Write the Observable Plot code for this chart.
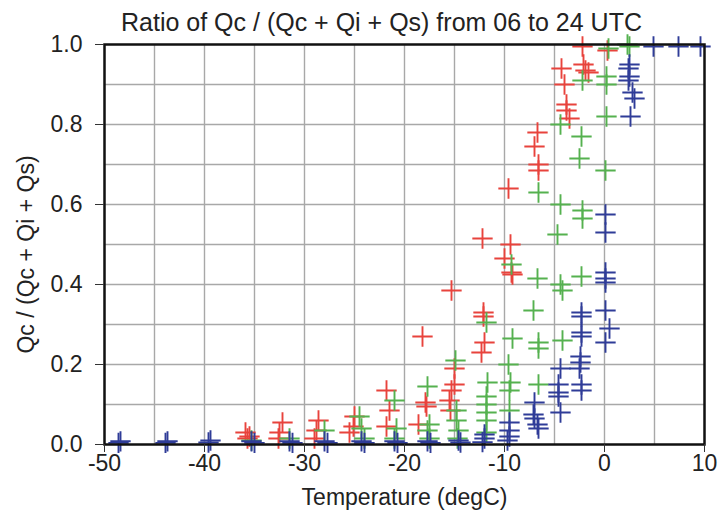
<!DOCTYPE html>
<html>
<head>
<meta charset="utf-8">
<script src="https://cdn.jsdelivr.net/npm/d3@7"></script>
<script src="https://cdn.jsdelivr.net/npm/@observablehq/plot@0.6"></script>
<style>
  html, body { margin: 0; padding: 0; background: white; }
</style>
</head>
<body>
<div id="chart"></div>
<script>
const title = "Ratio of Qc / (Qc + Qi + Qs) from 06 to 24 UTC";
const xLabel = "Temperature (degC)";
const yLabel = "Qc / (Qc + Qi + Qs)";
const xTicks = [-50, -40, -30, -20, -10, 0, 10];
const yTicks = [0, 0.2, 0.4, 0.6, 0.8, 1.0];
const xGrid = [-45, -40, -35, -30, -25, -20, -15, -10, -5, 0, 5];
const yGrid = [0.1, 0.2, 0.3, 0.4, 0.5, 0.6, 0.7, 0.8, 0.9];

const redT = [-35.9,-35.7,-35.5, -32.2,-32.5,-32.6, -28.6,-28.8,-29.0, -25.0,-25.1,-25.5,
  -21.8,-21.5,-21.8, -18.2,-17.9,-17.8,-18.6, -15.3,-15.0,-15.0,-15.3,-15.5,-15.4,
  -12.2,-12.1,-12.1,-12.0,-12.3, -9.6,-9.4,-10.0,-9.3,-9.2, -6.7,-7.0,-6.6,-6.6,
  -4.3,-4.0,-3.8,-3.8,-3.5, -2.1,-1.9,-1.6,-2.2, 0.3];
const redQ = [0.03,0.015,0.02, 0.055,0.03,0.015, 0.06,0.035,0.015, 0.07,0.045,0.03,
  0.135,0.085,0.045, 0.27,0.105,0.095,0.05, 0.385,0.19,0.15,0.135,0.11,0.085,
  0.515,0.33,0.32,0.255,0.23, 0.64,0.50,0.465,0.43,0.425, 0.78,0.745,0.70,0.685,
  0.94,0.90,0.85,0.835,0.815, 0.95,0.935,0.93,0.995, 0.985];

const greenT = [-35.3,-31.5,-28.0,-24.5,-24.3,-24.0, -21.0,-20.8,-21.0, -17.7,-17.5,-17.7,-17.5,
  -14.9,-14.8,-14.8,-14.6,-14.7, -11.8,-11.7,-11.8,-11.8,-11.8,-11.8,-11.8,
  -9.3,-9.2,-9.6,-9.4,-9.5,-9.5, -6.6,-6.7,-7.1,-6.6,-6.6,-6.6,
  -4.4,-4.4,-4.7,-4.4,-4.2,-4.2, -2.2,-2.3,-2.5,-2.2,-2.2,-2.3,
  0.2,0.2,0.2,0.1,0.4, 2.3,2.5];
const greenQ = [0.01,0.015,0.035,0.07,0.04,0.015, 0.11,0.04,0.015, 0.145,0.05,0.035,0.015,
  0.21,0.085,0.06,0.035,0.015, 0.305,0.155,0.12,0.10,0.08,0.06,0.03,
  0.45,0.265,0.20,0.155,0.135,0.085, 0.63,0.415,0.335,0.255,0.24,0.15,
  0.80,0.60,0.525,0.40,0.385,0.26, 0.91,0.77,0.715,0.585,0.565,0.42,
  0.92,0.90,0.82,0.685,0.99, 1.0,0.995];

const blueT = [-48.4,-48.6,-43.7,-43.9,-39.4,-39.6,-35.3,-35.0,-31.5,-31.2,-28.0,-27.7,
  -24.3,-24.0,-21.0,-20.7,-17.7,-17.4,-14.6,-14.4, -12.0,-12.0,-12.2,
  -9.5,-9.5,-9.5,-9.7, -7.0,-7.1,-7.0,-6.7,-6.6,
  -4.4,-4.6,-4.6,-4.6,-4.4, -2.3,-2.3,-2.3,-2.3,-2.4,-2.4,-2.5,-2.3,-2.3,
  0.1,0.1,0.1,0.1,0.1,0.1,0.5,0.1, 2.5,2.4,2.5,2.4,2.8,3.0,2.6, 4.9,7.4,9.6];
const blueQ = [0.008,0.004,0.008,0.004,0.01,0.005,0.008,0.004,0.008,0.004,0.008,0.004,
  0.008,0.004,0.008,0.004,0.008,0.004,0.01,0.005, 0.015,0.025,0.006,
  0.02,0.035,0.055,0.01, 0.105,0.075,0.065,0.05,0.04,
  0.19,0.15,0.13,0.12,0.08, 0.33,0.32,0.28,0.27,0.22,0.205,0.19,0.15,0.135,
  0.575,0.53,0.43,0.415,0.405,0.335,0.29,0.255, 0.95,0.94,0.92,0.91,0.88,0.865,0.82,
  0.995,0.995,0.995];

const seriesColors = {red: "#e8433c", green: "#55b14f", blue: "#2f3c98"};

const rows = [];
function add(name, T, Q) { T.forEach((t, i) => rows.push({series: name, t, q: Q[i]})); }
add("red", redT, redQ);
add("green", greenT, greenQ);
add("blue", blueT, blueQ);

const font = "'Liberation Sans', Arial, Helvetica, sans-serif";

const chart = Plot.plot({
  width: 720,
  height: 517,
  marginLeft: 104,
  marginRight: 16,
  marginTop: 44,
  marginBottom: 73,
  style: {fontFamily: font, fontSize: "23px", background: "white", color: "#222"},
  x: {domain: [-50, 10], label: null},
  y: {domain: [0, 1], label: null},
  marks: [
    Plot.ruleX(xGrid, {x: d => d, stroke: "#a8a8a8", strokeWidth: 1.4}),
    Plot.ruleY(yGrid, {y: d => d, stroke: "#a8a8a8", strokeWidth: 1.4}),
    Plot.dot(rows, {x: "t", y: "q", symbol: "plus", r: 6.6, strokeWidth: 1.9,
      stroke: d => seriesColors[d.series]}),
    Plot.frame({stroke: "#111", strokeWidth: 2.5}),
    Plot.axisX(xTicks, {tickSize: 8, tickPadding: 2, fontSize: 23, tickFormat: d => String(d), label: null, stroke: "#333"}),
    Plot.axisY(yTicks, {tickSize: 9, tickPadding: 13, fontSize: 23, tickFormat: d3.format(".1f"), label: null, stroke: "#333"}),
    Plot.text([title], {frameAnchor: "top", lineAnchor: "middle", dy: -22, dx: -23, fontSize: 25, fill: "#222"}),
    Plot.text([xLabel], {frameAnchor: "bottom", lineAnchor: "middle", dy: 53, fontSize: 23, fill: "#222"}),
    Plot.text([yLabel], {frameAnchor: "left", textAnchor: "middle", lineAnchor: "middle", dx: -78, dy: 10, rotate: -90, fontSize: 23, fill: "#222"})
  ]
});
document.getElementById("chart").appendChild(chart);
</script>
</body>
</html>
